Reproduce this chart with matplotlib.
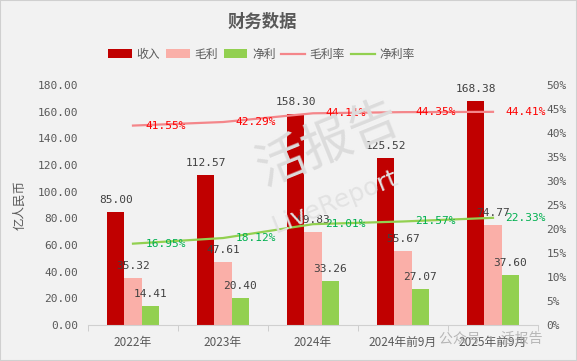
import matplotlib.pyplot as plt
import matplotlib.patches as mpatches
import numpy as np

# data
categories = ['2022年', '2023年', '2024年', '2024年前9月', '2025年前9月']
revenue = [85.00, 112.57, 158.30, 125.52, 168.38]
gross = [35.32, 47.61, 69.83, 55.67, 74.77]
net = [14.41, 20.40, 33.26, 27.07, 37.60]
gross_rate = [41.55, 42.29, 44.11, 44.35, 44.41]
net_rate = [16.95, 18.12, 21.01, 21.57, 22.33]

num_font = ['DejaVu Sans Mono', 'Noto Sans CJK SC']
cjk_font = ['Noto Sans CJK SC', 'DejaVu Sans']
plt.rcParams['font.family'] = cjk_font

bg = '#f2f2f2'
grey = '#595959'
c_rev, c_gross, c_net = '#C00000', '#FAAFA8', '#92D050'
c_gline = '#F4868A'

fig = plt.figure(figsize=(5.77, 3.61), dpi=100, facecolor=bg)
fig.patches.append(mpatches.Rectangle((0, 0), 1, 1, transform=fig.transFigure,
                                      fill=False, edgecolor='#d0d0d0', lw=1.5))
ax = fig.add_axes([0.1525, 0.0997, 0.7799, 0.6648])
ax.set_facecolor(bg)

# watermark
fig.text(0.57, 0.60, '活报告', fontsize=36, color='#dcdcdc', rotation=22,
         ha='center', va='center', zorder=0, family=cjk_font)
fig.text(0.58, 0.44, 'LiveReport', fontsize=18, color='#e2e2e2', rotation=22,
         ha='center', va='center', zorder=0, family=['DejaVu Sans'])

x = np.arange(len(categories))
w = 0.19
b1 = ax.bar(x - w, revenue, w, color=c_rev, zorder=2, label='收入')
b2 = ax.bar(x, gross, w, color=c_gross, zorder=2, label='毛利')
b3 = ax.bar(x + w, net, w, color=c_net, zorder=2, label='净利')

for bars, vals in [(b1, revenue), (b2, gross), (b3, net)]:
    for r, v in zip(bars, vals):
        ax.annotate(f'{v:.2f}', (r.get_x() + r.get_width() / 2, v),
                    xytext=(0, 5), textcoords='offset points', ha='center',
                    va='bottom', fontsize=8, color='#404040', family=num_font,
                    zorder=5)

ax.set_xlim(-0.5, len(categories) - 0.5)
ax.set_ylim(0, 180)
ax.set_yticks(np.arange(0, 181, 20))
ax.set_yticklabels([f'{v:.2f}' for v in np.arange(0, 181, 20)],
                   family=num_font, fontsize=8, color=grey)
ax.set_xticks(x)
ax.set_xticklabels(categories, fontsize=8.5, color=grey)
ax.set_xticks(np.arange(-0.5, len(categories), 1), minor=True)
ax.tick_params(axis='x', which='major', length=0, pad=8)
ax.tick_params(axis='x', which='minor', length=4, color='#c8c8c8')
ax.tick_params(axis='y', length=0, pad=7)
for s in ['top', 'left', 'right']:
    ax.spines[s].set_visible(False)
ax.spines['bottom'].set_color('#d0d0d0')
ax.set_ylabel('亿人民币', fontsize=9, color=grey, labelpad=8)

ax2 = ax.twinx()
ax2.set_ylim(0, 50)
ax2.set_yticks(np.arange(0, 51, 5))
ax2.set_yticklabels([f'{v}%' for v in range(0, 51, 5)], family=num_font,
                    fontsize=8, color=grey)
ax2.tick_params(axis='y', length=0, pad=6)
for s in ax2.spines.values():
    s.set_visible(False)

l1, = ax2.plot(x, gross_rate, color=c_gline, lw=1.6, zorder=3, label='毛利率')
l2, = ax2.plot(x, net_rate, color=c_net, lw=1.6, zorder=3, label='净利率')
for xi, v in zip(x, gross_rate):
    ax2.annotate(f'{v:.2f}%', (xi, v), xytext=(9, 0), textcoords='offset points',
                 ha='left', va='center', fontsize=8, color='#FF0000',
                 family=num_font)
for xi, v in zip(x, net_rate):
    ax2.annotate(f'{v:.2f}%', (xi, v), xytext=(9, 0), textcoords='offset points',
                 ha='left', va='center', fontsize=8, color='#00B050',
                 family=num_font)

fig.text(0.454, 0.939, '财务数据', fontsize=12.5, fontweight='bold', color=grey,
         ha='center', va='center')
fig.legend(handles=[b1, b2, b3, l1, l2], loc='center', bbox_to_anchor=(0.453, 0.85),
           ncol=5, frameon=False, fontsize=8.5, handlelength=2.0,
           handletextpad=0.4, columnspacing=0.5, labelcolor=grey)

# account tag bottom right
fig.text(0.85, 0.063, '公众号 · 活报告', fontsize=10, color='#a8a8a8', alpha=0.8,
         ha='center', va='center')

fig.savefig('out.png', dpi=100, facecolor=bg)
